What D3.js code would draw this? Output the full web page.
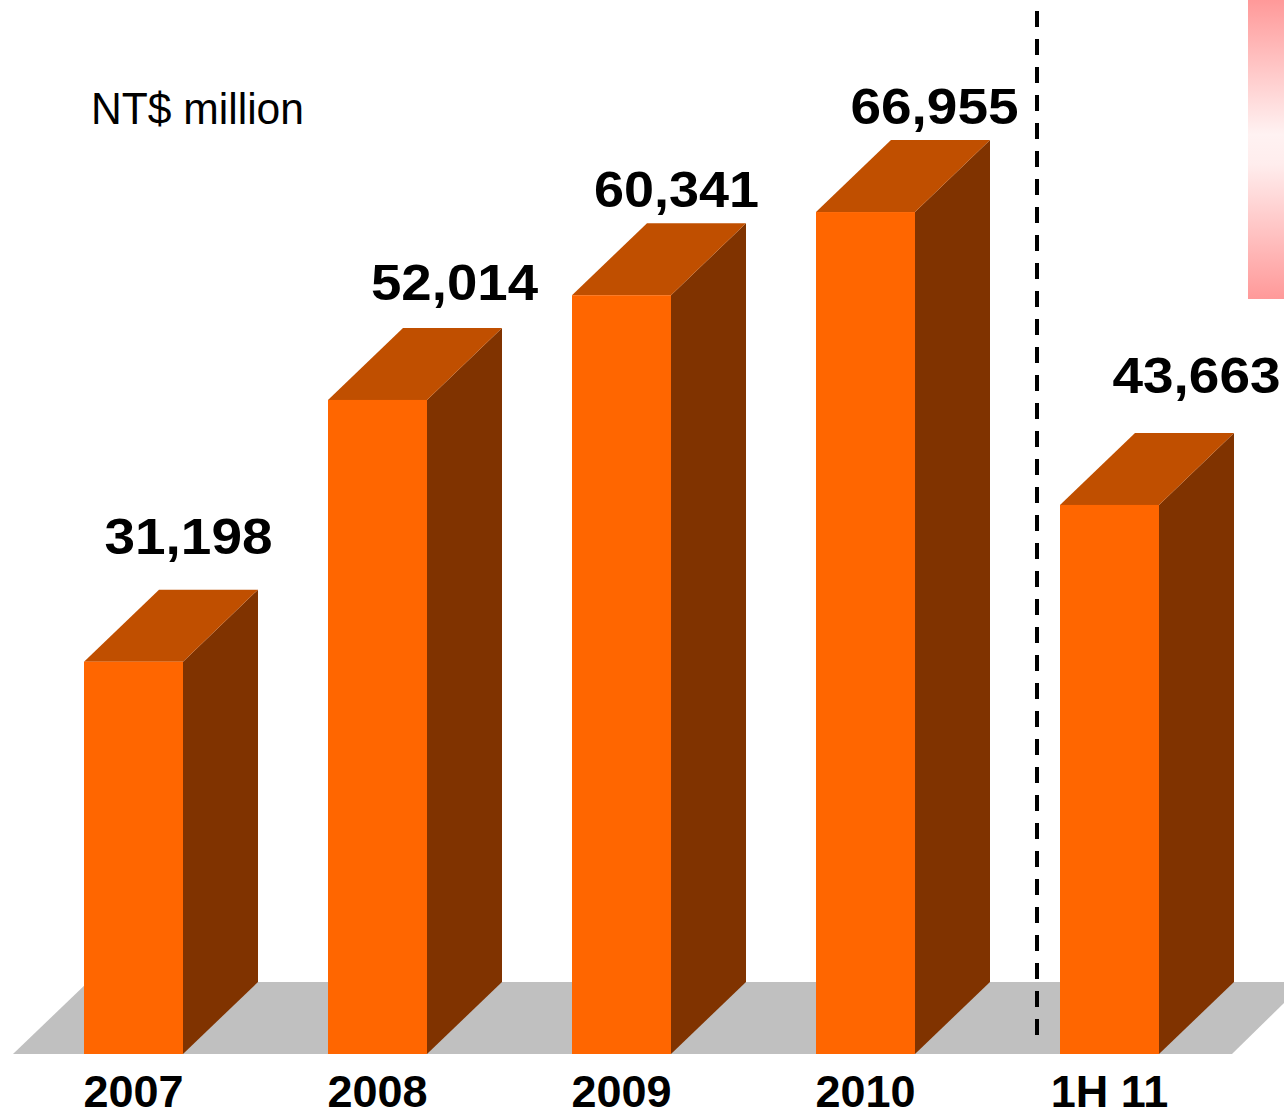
<!DOCTYPE html>
<html>
<head>
<meta charset="utf-8">
<script src="https://cdn.jsdelivr.net/npm/d3@7/dist/d3.min.js"></script>
<style>
html,body{margin:0;padding:0;background:#fff;overflow:hidden}
svg{display:block}
text{font-family:"Liberation Sans",Arial,sans-serif;fill:#000}
</style>
</head>
<body>
<svg id="chart" width="1284" height="1111"></svg>
<script>
// Revenue by period, NT$ million
const periods = ["2007", "2008", "2009", "2010", "1H 11"];
const revenue = [31198, 52014, 60341, 66955, 43663];
const unitLabel = "NT$ million";

// Hand placement of the value labels relative to each bar's top-front corner
const labelShiftX = [55, 77, 55, 69, 87];
const labelLift = [108, 100, 88, 88.4, 112];
const labelWidth = [168, 167, 165, 168, 168];

const W = 1284, H = 1111;
const baseY = 1054;
const depthX = 75, depthY = 72;
const colors = {front: "#FF6600", top: "#C04F00", side: "#803300", floor: "#C0C0C0"};

const svg = d3.select("#chart").attr("viewBox", [0, 0, W, H]);

const x = d3.scaleBand().domain(periods)
  .range([84, 1159]).paddingInner(145 / 244).paddingOuter(0);
const y = d3.scaleLinear().domain([0, 80000]).range([baseY, 48]);

const line = d3.line();

// Pale banded strip in the upper right corner
const grad = svg.append("defs").append("linearGradient")
  .attr("id", "strip").attr("x1", 0).attr("x2", 0).attr("y1", 0).attr("y2", 1);
[[0, "#FF9999"], [0.45, "#FFF2F2"], [0.55, "#FFEDED"], [1, "#FF9999"]].forEach(([o, c]) =>
  grad.append("stop").attr("offset", o).attr("stop-color", c));
svg.append("rect").attr("x", 1248).attr("y", 0).attr("width", 36).attr("height", 299)
  .attr("fill", "url(#strip)");

// Floor plane under the bars
svg.append("path")
  .attr("d", line([[13, baseY], [13 + depthX, baseY - depthY], [W, baseY - depthY],
                   [W, baseY - 51], [1232, baseY]]) + "Z")
  .attr("fill", colors.floor);

// Extruded bars: side, top, then front face
const bars = svg.append("g").selectAll("g")
  .data(periods.map((p, i) => ({p, v: revenue[i], i})))
  .join("g");

bars.append("path")
  .attr("fill", colors.side)
  .attr("d", d => {
    const r = x(d.p) + x.bandwidth(), t = y(d.v);
    return line([[r, t], [r + depthX, t - depthY], [r + depthX, baseY - depthY], [r, baseY]]) + "Z";
  });

bars.append("path")
  .attr("fill", colors.top)
  .attr("d", d => {
    const l = x(d.p), r = l + x.bandwidth(), t = y(d.v);
    return line([[l, t], [l + depthX, t - depthY], [r + depthX, t - depthY], [r, t]]) + "Z";
  });

bars.append("rect")
  .attr("fill", colors.front)
  .attr("x", d => x(d.p))
  .attr("y", d => y(d.v))
  .attr("width", x.bandwidth())
  .attr("height", d => y(0) - y(d.v));

// Value labels
bars.append("text")
  .attr("text-anchor", "middle")
  .attr("font-weight", "bold")
  .attr("font-size", 50)
  .attr("textLength", d => labelWidth[d.i])
  .attr("lengthAdjust", "spacingAndGlyphs")
  .attr("x", d => x(d.p) + x.bandwidth() / 2 + labelShiftX[d.i])
  .attr("y", d => y(d.v) - labelLift[d.i])
  .text(d => d3.format(",")(d.v));

// Dashed divider between full years and the half year
svg.append("path")
  .attr("d", line([[1037, 11], [1037, 1036]]))
  .attr("stroke", "#000").attr("stroke-width", 4)
  .attr("stroke-dasharray", "16 12").attr("fill", "none");

// Category axis
const axis = svg.append("g")
  .attr("transform", `translate(0,${baseY})`)
  .call(d3.axisBottom(x).tickSize(0).tickPadding(0));
axis.select(".domain").remove();
axis.selectAll("text")
  .attr("dy", null)
  .attr("y", 53)
  .attr("font-family", '"Liberation Sans",Arial,sans-serif')
  .attr("font-weight", "bold")
  .attr("font-size", 45);

// Unit caption
svg.append("text")
  .attr("x", 91).attr("y", 124)
  .attr("font-size", 44)
  .attr("textLength", 213)
  .attr("lengthAdjust", "spacingAndGlyphs")
  .text(unitLabel);
</script>
</body>
</html>
